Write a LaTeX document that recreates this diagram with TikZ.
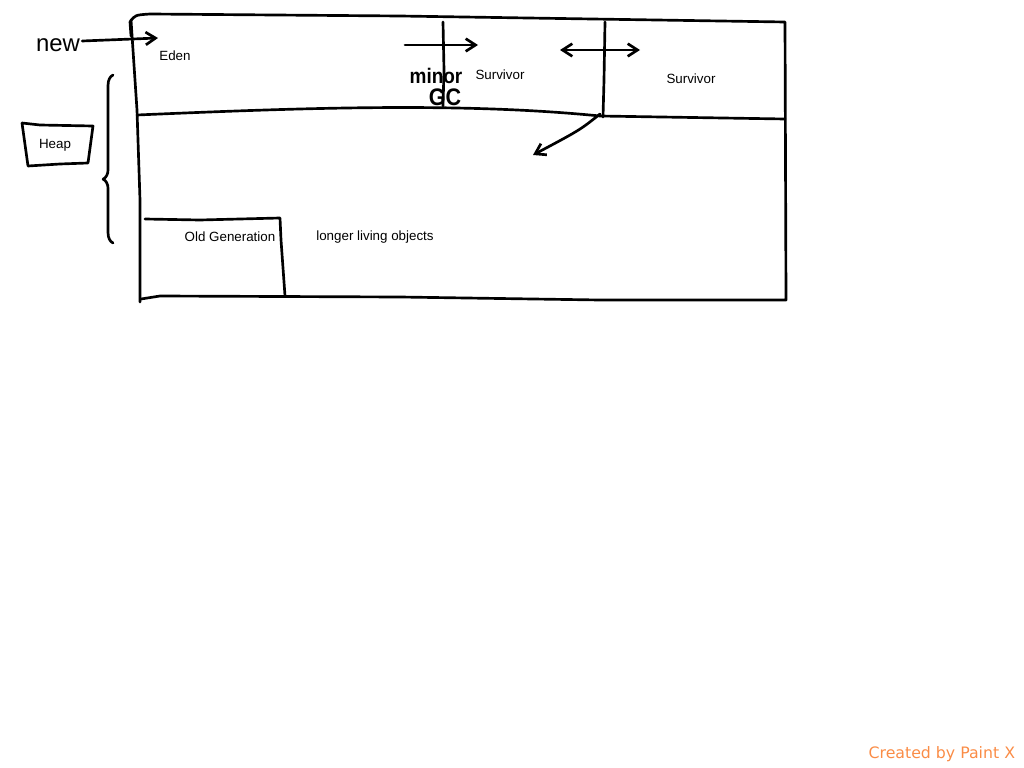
\documentclass[tikz,border=0pt]{standalone}
\usepackage{fontspec}
\setmainfont{Liberation Sans}
\newfontfamily\paintfont{DejaVu Sans}
\usetikzlibrary{arrows.meta,decorations.pathreplacing}
\definecolor{paintorange}{RGB}{250,140,70}
\tikzset{
  pen/.style={line width=1.9pt, line cap=round, line join=round},
  scribble/.style={font=\fontsize{17}{17}\selectfont, inner sep=0pt},
  label/.style={font=\fontsize{9.5}{11}\selectfont, inner sep=1pt}
}
\begin{document}
\begin{tikzpicture}[x=0.025cm,y=-0.025cm,>={Straight Barb[length=7pt,width=9pt]}]
\useasboundingbox (0,0) rectangle (1024,768);
% outer heap box
\draw[pen] (131,36) -- (130,22) .. controls (135,15) .. (150,14) -- (400,16) -- (785,22) -- (786,300)
  -- (600,300) -- (400,297) -- (160,296) -- (141,299);
\draw[pen] (131,20) -- (137,110) -- (140,200) -- (140,302);
% young / old divider
\draw[pen] (137,115) .. controls (300,108) and (460,102) .. (600,116) -- (785,119);
% survivor divider and minor gc line
\draw[pen] (605,22) -- (604,80) -- (603,117);
\draw[pen] (443,22) -- (444,70) -- (443,106);
% old generation box
\draw[pen] (145,219) -- (200,220) -- (280,218) -- (281,240) -- (285,296);
% heap bucket
\draw[pen] (22,123) -- (40,125) -- (93,126) -- (88,163) -- (60,164) -- (28,166) -- (22,123);
\node[label] (heap) at (55,145) {Heap};
\draw[pen, decorate, decoration={brace, amplitude=7pt, aspect=0.38}] (113,243) -- (113,75);
% labels
\node[scribble] (new) at (58,45) {new};
\coordinate (edenin) at (158,38);
\node[label] (eden) at (175,56) {Eden};
\node[label] (surv1) at (500,75) {Survivor};
\node[label] (surv2) at (691,79) {Survivor};
\node[scribble, font=\fontsize{15}{15}\selectfont\bfseries, xscale=0.9] (minor) at (436,76) {minor};
\node[scribble, font=\fontsize{17}{17}\selectfont\bfseries, xscale=0.9] (gc) at (445,97) {GC};
\node[label] (old) at (230,237) {Old Generation};
\node[label] (longer) at (375,237) {longer living objects};
% flows
\coordinate (gcstart) at (405,45);
\coordinate (gcend) at (478,45);
\coordinate (swapl) at (560,50);
\coordinate (swapr) at (640,50);
\coordinate (promote) at (600,114);
\coordinate (promoteend) at (533,155);
\draw[pen,->] (new.east) ++(2,-4) -- (edenin);
\draw[pen,->] (gcstart) -- (gcend);
\draw[pen,<->] (swapl) -- (swapr);
\draw[pen,->] (promote) .. controls (580,130) .. (promoteend);
\node[font=\paintfont\fontsize{11.2}{14}\selectfont, text=paintorange, anchor=east] (credit) at (1020,754) {Created by Paint X};
\end{tikzpicture}
\end{document}
